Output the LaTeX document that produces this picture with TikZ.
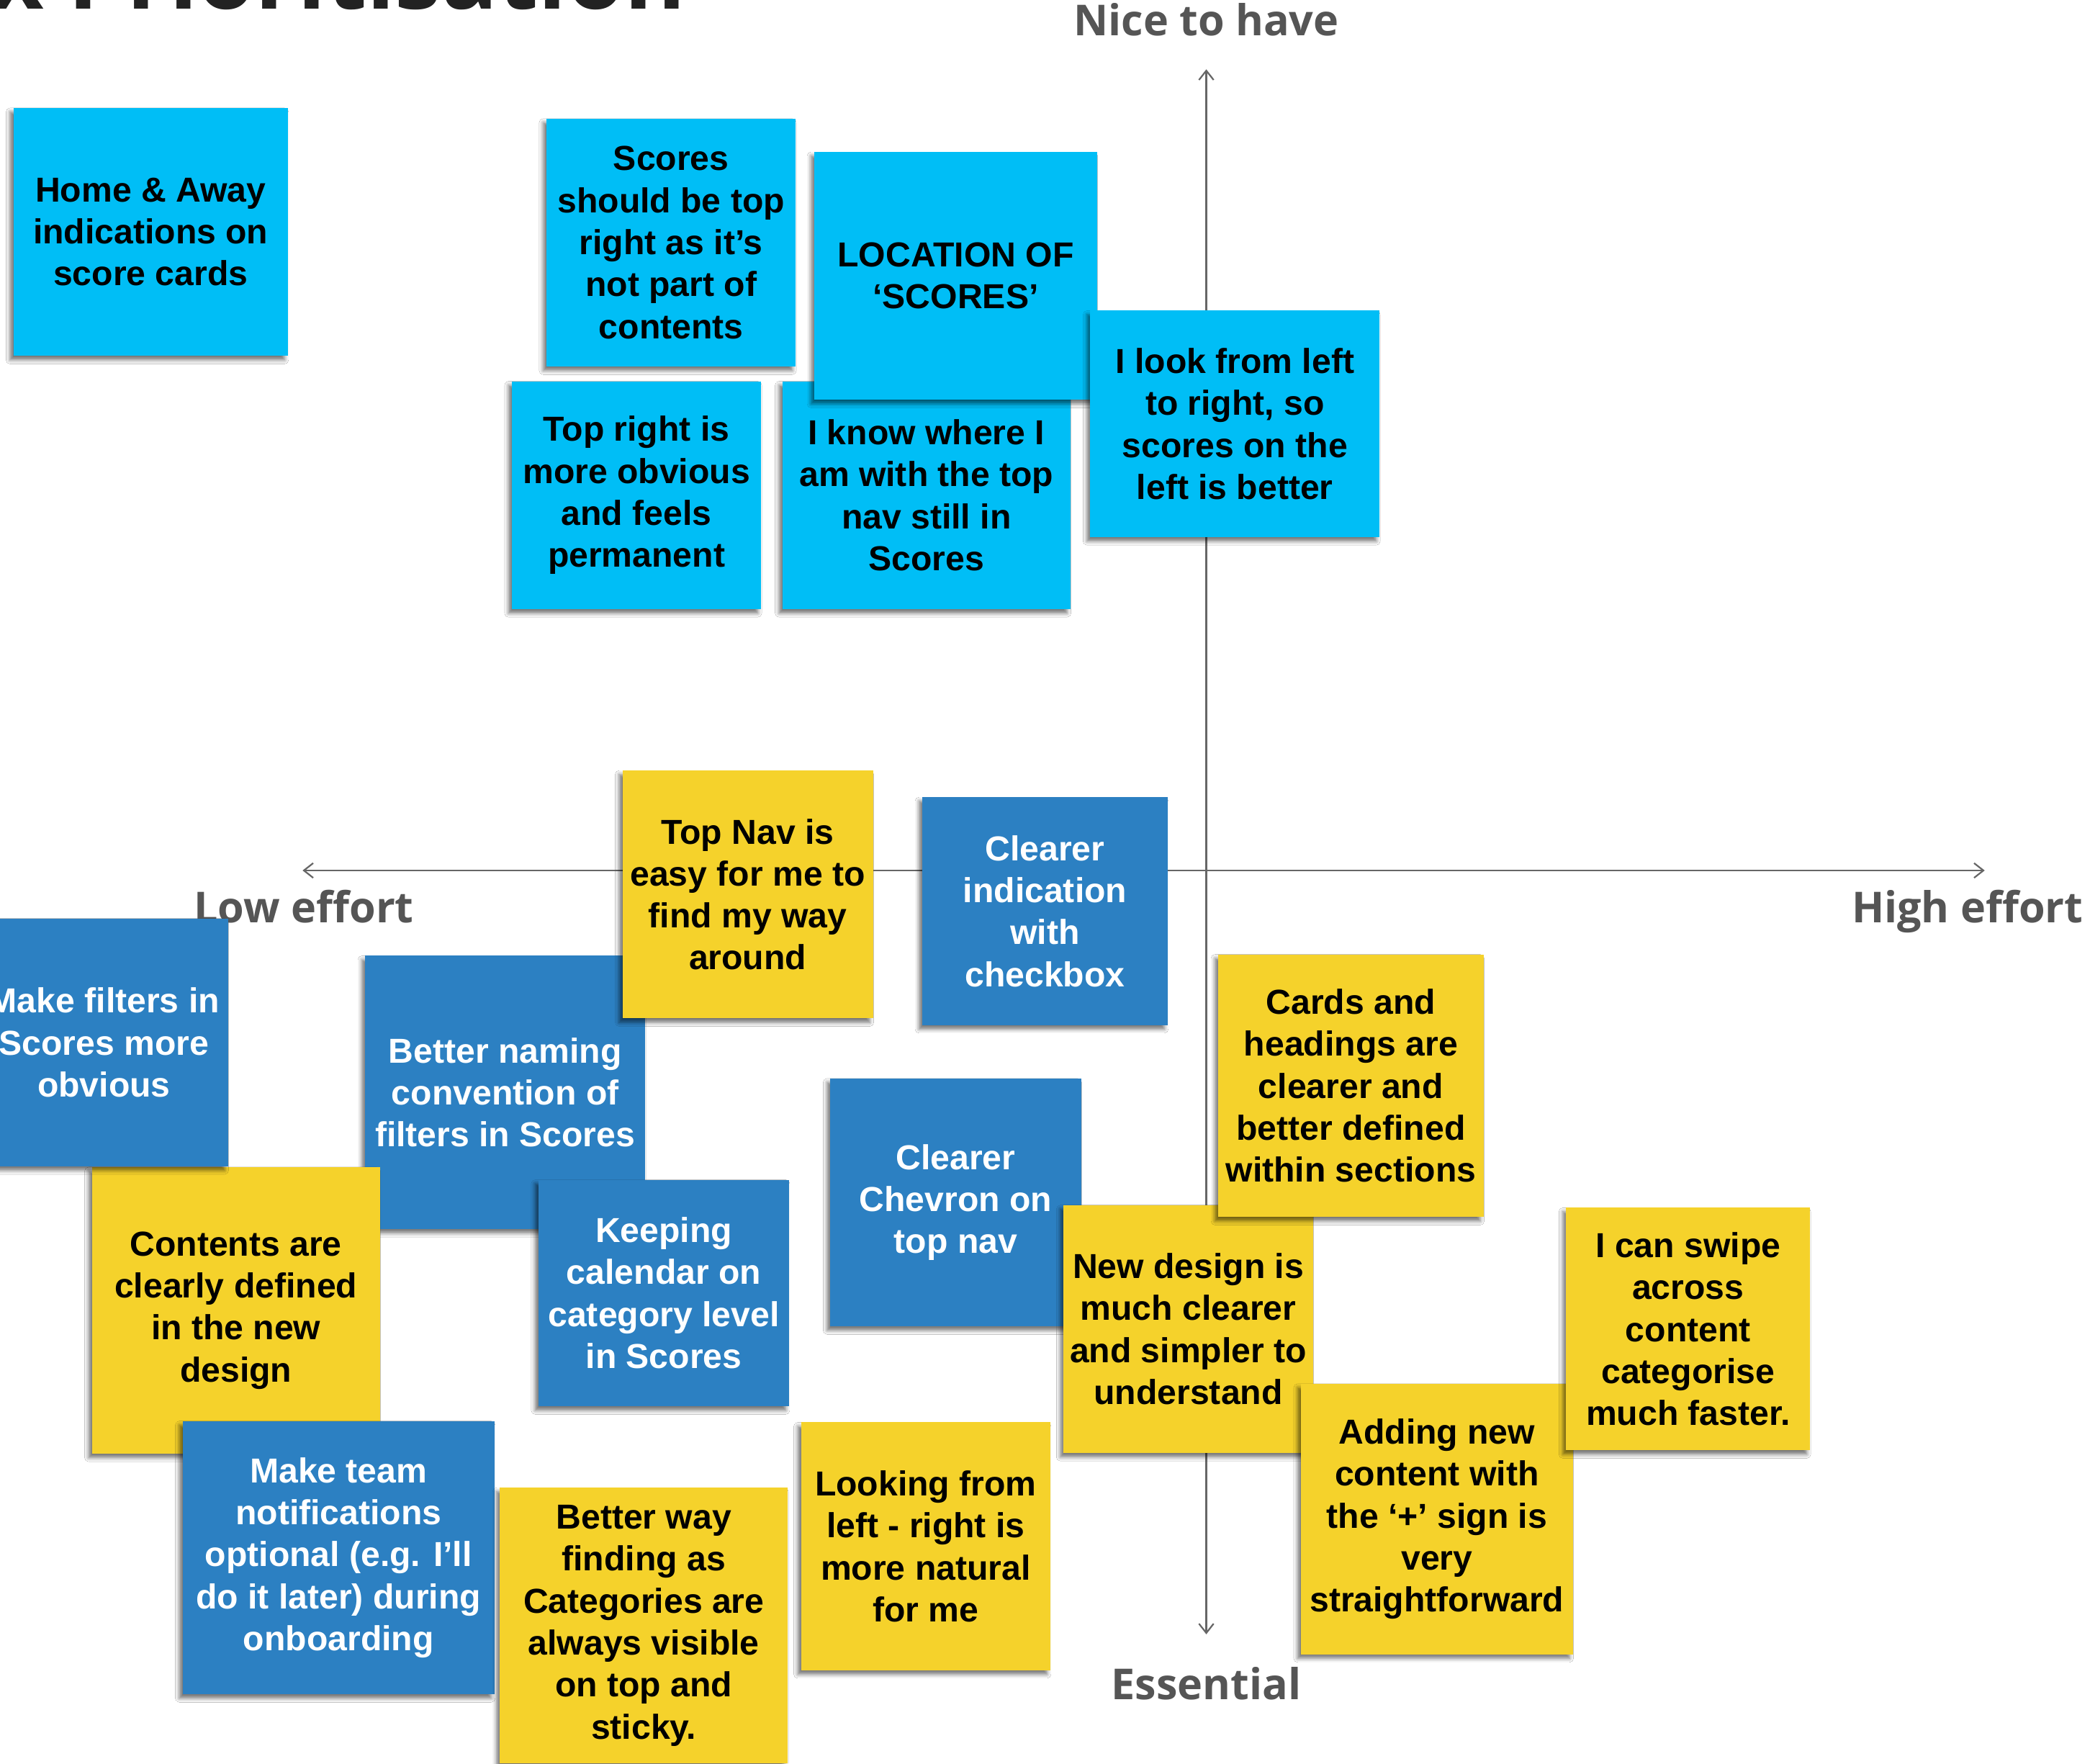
\documentclass[tikz,border=0pt]{standalone}
\usepackage{fontspec}
\setmainfont{Liberation Sans}[Ligatures=CommonOff]
\newfontfamily\axisfamily{Open Sans}[Ligatures=CommonOff]
\usetikzlibrary{shadows.blur,arrows.meta}
\definecolor{cyanN}{HTML}{00BEF6}
\definecolor{blueN}{HTML}{2C80C2}
\definecolor{yellowN}{HTML}{F5D22B}
\definecolor{axisgray}{HTML}{666666}
\definecolor{labelgray}{HTML}{555555}
\definecolor{titlegray}{HTML}{222222}
\newcommand\stickyfont{\fontsize{26}{31.5}\selectfont\bfseries}
\newcommand\axlabfont{\axisfamily\bfseries\fontsize{32}{36}\selectfont}
\tikzset{
  note/.style={rectangle, inner sep=0pt, align=center, font=\stickyfont,
    blur shadow={shadow xshift=-2.5pt, shadow yshift=-3pt, shadow blur radius=3pt, shadow opacity=55}},
  cnote/.style={note, fill=cyanN, text=black},
  bnote/.style={note, fill=blueN, text=white},
  ynote/.style={note, fill=yellowN, text=black},
  axislabel/.style={font=\axlabfont, text=labelgray, inner sep=0pt, anchor=base},
  axisline/.style={draw=axisgray, line width=1.2pt, >={Straight Barb[length=7pt,width=11pt]}, <->}
}
\begin{document}
\begin{tikzpicture}[x=1pt,y=-1pt]
\useasboundingbox (0,0) rectangle (1568,1323);
\clip (0,0) rectangle (1568,1323);
\fill[white] (0,0) rectangle (1568,1323);

% title (cut off at top)
\node[font=\axisfamily\bfseries\fontsize{70}{74}\selectfont, text=titlegray, inner sep=0pt, anchor=base east] (title) at (515,7) {x Prioritisation};

% axes
\coordinate (ytop) at (905,52);
\coordinate (ybot) at (905,1226);
\coordinate (xleft) at (227,653);
\coordinate (xright) at (1489,653);
\draw[axisline] (ybot) -- (ytop);
\draw[axisline] (xleft) -- (xright);
\node[axislabel] (nice) at (905,27) {Nice to have};
\node[axislabel] (low) at (228,692) {Low effort};
\node[axislabel] (high) at (1476,692) {High effort};
\node[axislabel] (ess) at (905,1275) {Essential};

% notes (drawing order = stacking order)
\node[cnote, minimum width=206pt, minimum height=186pt] (home) at (113,174) {Home \& Away\\indications on\\score cards};
\node[cnote, minimum width=187pt, minimum height=186pt] (scores) at (503.5,182) {Scores\\should be top\\right as it’s\\not part of\\contents};
\node[cnote, minimum width=187pt, minimum height=171pt] (topright) at (477.5,371.5) {Top right is\\more obvious\\and feels\\permanent};
\node[cnote, minimum width=216pt, minimum height=171pt] (iknow) at (695,371.5) {I know where I\\am with the top\\nav still in\\Scores};
\node[cnote, minimum width=212pt, minimum height=186pt] (location) at (717,207) {LOCATION OF\\‘SCORES’};
\node[cnote, minimum width=217pt, minimum height=170pt] (ilook) at (926.5,318) {I look from left\\to right, so\\scores on the\\left is better};

\node[bnote, minimum width=184pt, minimum height=171pt] (clearind) at (784,683.5) {Clearer\\indication\\with\\checkbox};
\node[bnote, minimum width=210pt, minimum height=205pt] (naming) at (379,819.5) {Better naming\\convention of\\filters in Scores};
\node[ynote, minimum width=188pt, minimum height=186pt] (topnav) at (561,671) {Top Nav is\\easy for me to\\find my way\\around};
\node[bnote, minimum width=188pt, minimum height=170pt] (keeping) at (498,970) {Keeping\\calendar on\\category level\\in Scores};
\node[ynote, minimum width=216pt, minimum height=215pt] (contents) at (177,983) {Contents are\\clearly defined\\in the new\\design};
\node[bnote, minimum width=186pt, minimum height=186pt] (filters) at (78,782) {Make filters in\\Scores more\\obvious};
\node[bnote, minimum width=234pt, minimum height=205pt] (team) at (254,1168.5) {Make team\\notifications\\optional (e.g. I’ll\\do it later) during\\onboarding};
\node[ynote, minimum width=216pt, minimum height=207pt] (betterway) at (483,1219.5) {Better way\\finding as\\Categories are\\always visible\\on top and\\sticky.};
\node[ynote, minimum width=187pt, minimum height=186pt] (looking) at (694.5,1160) {Looking from\\left - right is\\more natural\\for me};
\node[bnote, minimum width=188pt, minimum height=186pt] (chevron) at (717,902) {Clearer\\Chevron on\\top nav};
\node[ynote, minimum width=187pt, minimum height=186pt] (newdesign) at (891.5,997) {New design is\\much clearer\\and simpler to\\understand};
\node[ynote, minimum width=199pt, minimum height=197pt] (cards) at (1013.5,814.5) {Cards and\\headings are\\clearer and\\better defined\\within sections};
\node[ynote, minimum width=204pt, minimum height=203pt] (adding) at (1078,1139.5) {Adding new\\content with\\the ‘+’ sign is\\very\\straightforward};
\node[ynote, minimum width=183pt, minimum height=182pt] (swipe) at (1266.5,997) {I can swipe\\across\\content\\categorise\\much faster.};
\end{tikzpicture}
\end{document}
